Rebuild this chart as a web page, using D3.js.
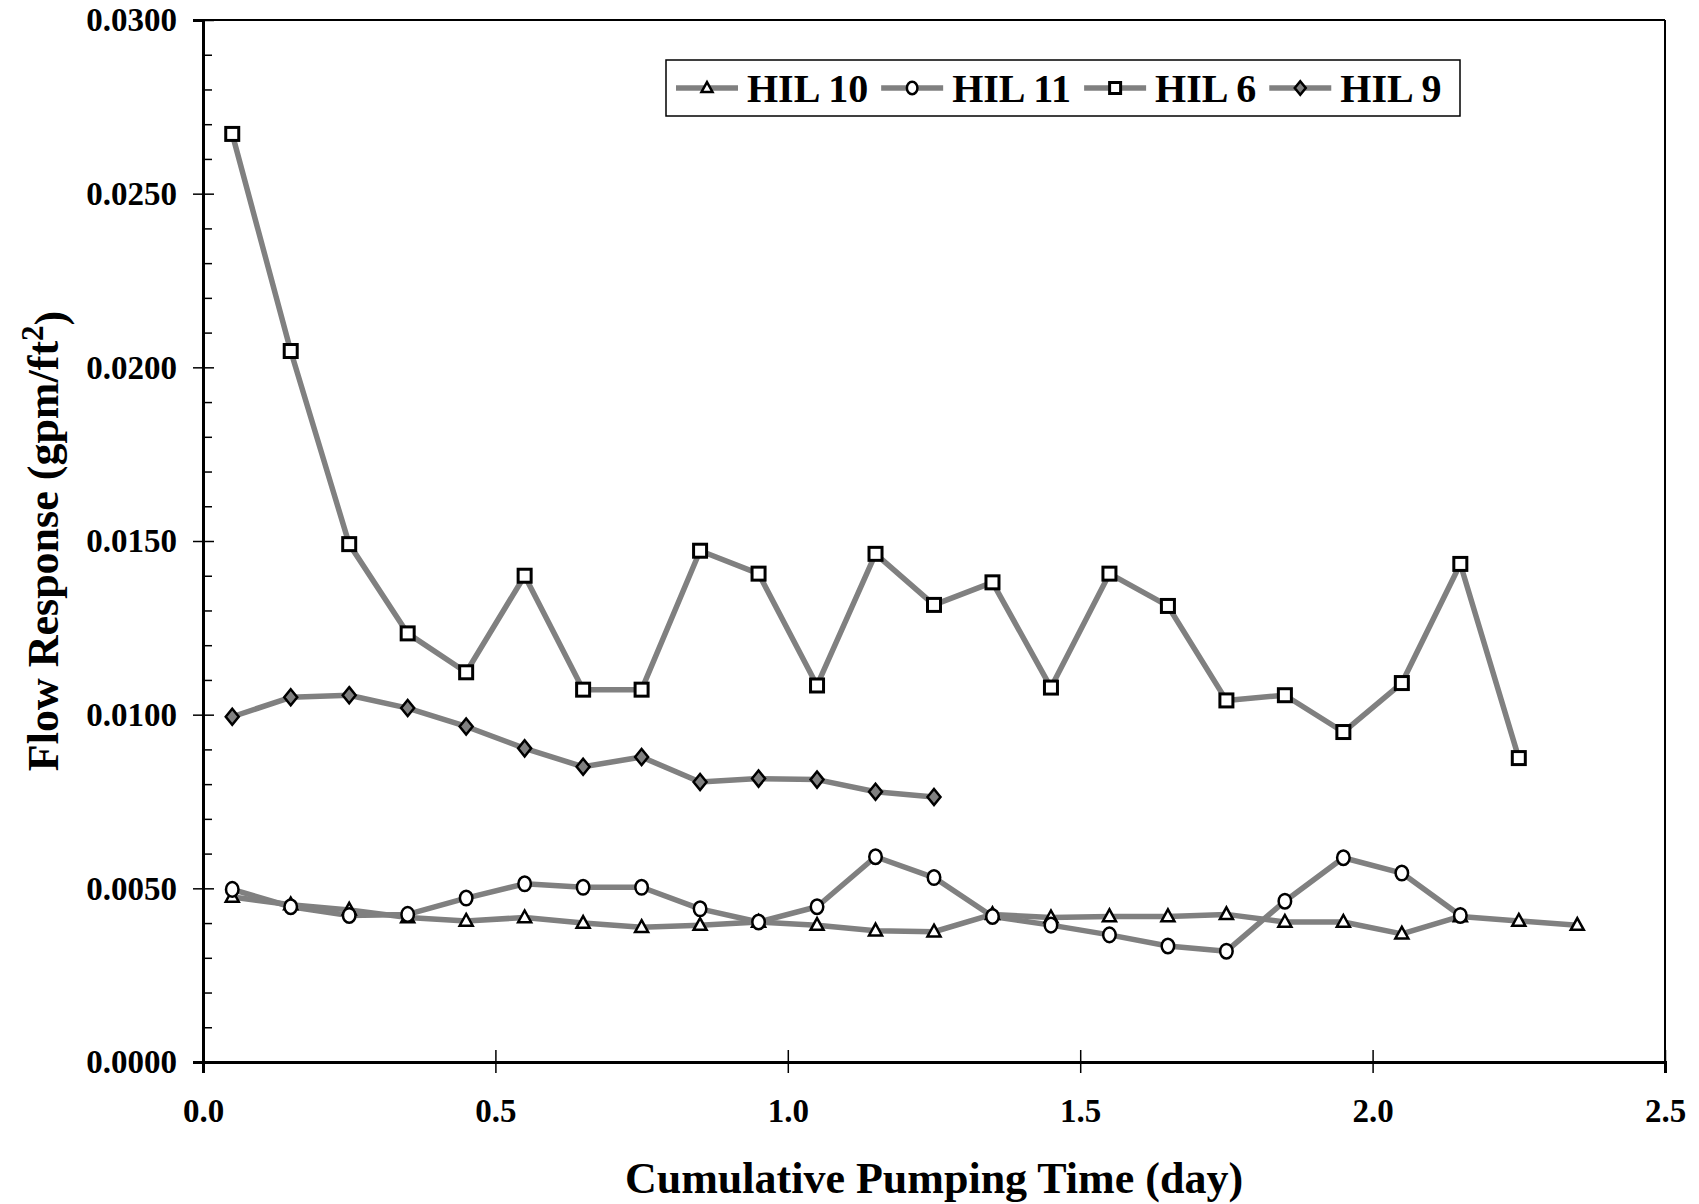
<html>
<head>
<meta charset="utf-8">
<title>Flow Response</title>
<script src="https://d3js.org/d3.v7.min.js"></script>
<style>
  body { margin: 0; background: #fff; }
  text { font-family: "Liberation Serif", "Times New Roman", serif; font-weight: bold; fill: #000; }
</style>
</head>
<body>
<script>
// pumping time (day) for each sample
var days = [0.05, 0.15, 0.25, 0.35, 0.45, 0.55, 0.65, 0.75, 0.85, 0.95, 1.05, 1.15,
            1.25, 1.35, 1.45, 1.55, 1.65, 1.75, 1.85, 1.95, 2.05, 2.15, 2.25, 2.35];

var hil10 = [0.00475, 0.00453, 0.00438, 0.00416, 0.00406, 0.00416, 0.00400, 0.00388,
             0.00394, 0.00403, 0.00394, 0.00378, 0.00375, 0.00425, 0.00416, 0.00419,
             0.00419, 0.00425, 0.00403, 0.00403, 0.00369, 0.00419, 0.00406, 0.00394];
var hil11 = [0.00497, 0.00447, 0.00422, 0.00425, 0.00472, 0.00513, 0.00503, 0.00503,
             0.00441, 0.00403, 0.00447, 0.00591, 0.00531, 0.00419, 0.00394, 0.00366,
             0.00334, 0.00319, 0.00463, 0.00588, 0.00544, 0.00422];
var hil6 = [0.02672, 0.02047, 0.01491, 0.01234, 0.01122, 0.01400, 0.01072, 0.01072,
            0.01472, 0.01406, 0.01084, 0.01463, 0.01316, 0.01381, 0.01078, 0.01406,
            0.01313, 0.01041, 0.01056, 0.00950, 0.01091, 0.01434, 0.00875];
var hil9 = [0.00994, 0.01050, 0.01056, 0.01019, 0.00966, 0.00903, 0.00850, 0.00878,
            0.00806, 0.00816, 0.00813, 0.00778, 0.00763];

var seriesNames = ["HIL 10", "HIL 11", "HIL 6", "HIL 9"];
var seriesShapes = ["triangle", "circle", "square", "diamond"];
var seriesValues = [hil10, hil11, hil6, hil9];

var yMajor = [0, 0.005, 0.01, 0.015, 0.02, 0.025, 0.03];
var yMinor = [0.001, 0.002, 0.003, 0.004, 0.006, 0.007, 0.008, 0.009, 0.011, 0.012, 0.013, 0.014,
              0.016, 0.017, 0.018, 0.019, 0.021, 0.022, 0.023, 0.024, 0.026, 0.027, 0.028, 0.029];
var xMajor = [0, 0.5, 1.0, 1.5, 2.0, 2.5];

var W = 1699, H = 1204;
var pLeft = 203, pRight = 1665, pTop = 20, pBottom = 1062;

var svg = d3.select("body").append("svg")
    .attr("width", W).attr("height", H);

var x = d3.scaleLinear().domain([0, 2.5]).range([pLeft, pRight]);
var y = d3.scaleLinear().domain([0, 0.03]).range([pBottom, pTop]);

// plot frame (top & right)
svg.append("line").attr("x1", pLeft).attr("x2", pRight).attr("y1", pTop).attr("y2", pTop)
    .attr("stroke", "#000").attr("stroke-width", 2);
svg.append("line").attr("x1", pRight).attr("x2", pRight).attr("y1", pTop).attr("y2", pBottom)
    .attr("stroke", "#000").attr("stroke-width", 2);

// minor y ticks, inside
svg.append("g")
    .attr("transform", "translate(" + pLeft + ",0)")
    .call(d3.axisRight(y).tickValues(yMinor).tickSize(9).tickFormat(""))
    .call(function(g) { g.select(".domain").remove(); })
    .selectAll("line").attr("stroke-width", 1.5);

// major y axis
var yAx = svg.append("g")
    .attr("transform", "translate(" + pLeft + ",0)")
    .call(d3.axisLeft(y).tickValues(yMajor).tickSize(10).tickPadding(16).tickFormat(d3.format(".4f")));
yAx.select(".domain").attr("stroke-width", 3);
yAx.selectAll(".tick line").attr("x2", -10).attr("x1", 11).attr("stroke-width", 1.5);
yAx.selectAll(".tick text").style("font-size", "33px").attr("dy", "0.33em");

// x axis
var xAx = svg.append("g")
    .attr("transform", "translate(0," + pBottom + ")")
    .call(d3.axisBottom(x).tickValues(xMajor).tickSize(11).tickPadding(26).tickFormat(d3.format(".1f")));
xAx.select(".domain").attr("stroke-width", 3);
xAx.selectAll(".tick line").attr("y1", -12).attr("stroke-width", 1.5);
xAx.selectAll(".tick text").style("font-size", "33px");

// axis titles
svg.append("text")
    .attr("x", (pLeft + pRight) / 2).attr("y", 1193)
    .attr("text-anchor", "middle").style("font-size", "44px")
    .text("Cumulative Pumping Time (day)");

var yt = svg.append("text")
    .attr("transform", "translate(58," + ((pTop + pBottom) / 2) + ") rotate(-90)")
    .attr("text-anchor", "middle").style("font-size", "44px");
yt.append("tspan").text("Flow Response (gpm/ft");
yt.append("tspan").attr("dy", "-0.5em").style("font-size", "31px").text("2");
yt.append("tspan").attr("dy", "0.5em").text(")");

// marker drawing
function drawMarker(g, shape, cx, cy, s) {
  if (shape === "square") {
    g.append("rect").attr("x", cx - s / 2).attr("y", cy - s / 2).attr("width", s).attr("height", s)
      .attr("fill", "#fff").attr("stroke", "#000").attr("stroke-width", 3);
  } else if (shape === "circle") {
    g.append("ellipse").attr("cx", cx).attr("cy", cy).attr("rx", s * 0.48).attr("ry", s * 0.56)
      .attr("fill", "#fff").attr("stroke", "#000").attr("stroke-width", 2.5);
  } else if (shape === "triangle") {
    var h = s * 0.9;
    g.append("path")
      .attr("d", "M" + cx + "," + (cy - h * 0.6) + "L" + (cx + s / 2) + "," + (cy + h * 0.4) +
                 "L" + (cx - s / 2) + "," + (cy + h * 0.4) + "Z")
      .attr("fill", "#fff").attr("stroke", "#000").attr("stroke-width", 2.5).attr("stroke-linejoin", "miter");
  } else {
    var hw = s * 0.5, hh = s * 0.62;
    g.append("path")
      .attr("d", "M" + cx + "," + (cy - hh) + "L" + (cx + hw) + "," + cy + "L" + cx + "," + (cy + hh) +
                 "L" + (cx - hw) + "," + cy + "Z")
      .attr("fill", "#808080").attr("stroke", "#000").attr("stroke-width", 2.5);
  }
}

var line = d3.line().x(function(d) { return x(d[0]); }).y(function(d) { return y(d[1]); });

// draw order: HIL 10, HIL 11, HIL 6, HIL 9
seriesValues.forEach(function(vals, i) {
  var pts = vals.map(function(v, j) { return [days[j], v]; });
  svg.append("path").datum(pts).attr("d", line)
    .attr("fill", "none").attr("stroke", "#808080").attr("stroke-width", 5.5)
    .attr("stroke-linejoin", "round");
});
seriesValues.forEach(function(vals, i) {
  var g = svg.append("g");
  vals.forEach(function(v, j) {
    drawMarker(g, seriesShapes[i], x(days[j]), y(v), 13);
  });
});

// legend
var leg = svg.append("g");
leg.append("rect").attr("x", 666).attr("y", 60).attr("width", 794).attr("height", 56)
  .attr("fill", "#fff").attr("stroke", "#000").attr("stroke-width", 1.5);
var lx = 676, ly = 88;
seriesNames.forEach(function(name, i) {
  leg.append("line").attr("x1", lx).attr("x2", lx + 62).attr("y1", ly).attr("y2", ly)
    .attr("stroke", "#808080").attr("stroke-width", 5.5);
  drawMarker(leg, seriesShapes[i], lx + 31, ly, 11);
  var t = leg.append("text").attr("x", lx + 71).attr("y", 102).style("font-size", "40px").text(name);
  lx = lx + 71 + t.node().getComputedTextLength() + 13;
});
</script>
</body>
</html>
